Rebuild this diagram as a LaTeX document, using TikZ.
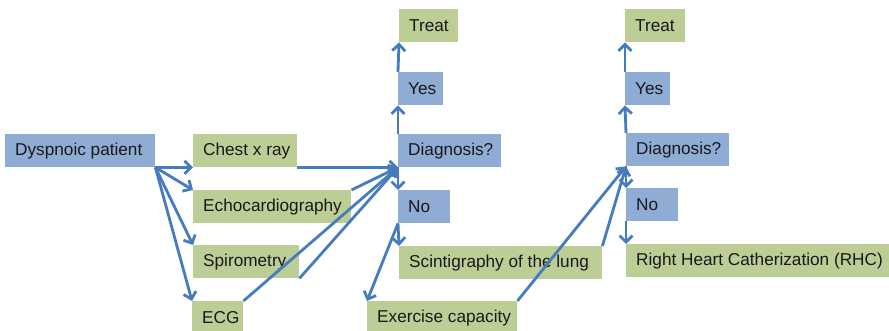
\documentclass[tikz,border=0pt]{standalone}
\usepackage{fontspec}
\setmainfont{Liberation Sans}
\usetikzlibrary{arrows.meta}
\definecolor{boxblue}{RGB}{143,172,213}
\definecolor{boxgreen}{RGB}{188,206,150}
\definecolor{arrowblue}{RGB}{70,124,190}
\newcommand{\bx}[2]{\makebox[#1pt][l]{#2}}
\tikzset{
  basebox/.style={anchor=north west, minimum height=33pt, inner xsep=10pt, inner ysep=0pt,
    font=\fontsize{17.2}{20}\selectfont, text=black!90},
  bluebox/.style={basebox, fill=boxblue},
  greenbox/.style={basebox, fill=boxgreen},
  conn/.style={draw=arrowblue, line width=2.8pt, -{Straight Barb[length=6.5pt,width=13pt]}}
}
\begin{document}
\begin{tikzpicture}[x=1pt,y=-1pt]
\useasboundingbox (0,0) rectangle (889,331);
\node[bluebox] (dys) at (5,134) {\bx{130}{Dyspnoic patient}};
\node[greenbox] (chest) at (193,134) {\bx{84}{Chest x ray}};
\node[greenbox] (echo) at (193,190) {\bx{138}{Echocardiography}};
\node[greenbox] (spiro) at (193,245) {\bx{86}{Spirometry}};
\node[greenbox] (ecg) at (192,301) {\bx{31}{ECG}};
\node[greenbox] (treat1) at (399,9) {\bx{39}{Treat}};
\node[bluebox] (yes1) at (398,72) {\bx{25}{Yes}};
\node[bluebox] (diag1) at (398,134) {\bx{83}{Diagnosis?}};
\node[bluebox] (no1) at (398,190) {\bx{32}{No}};
\node[greenbox] (scint) at (399,246) {\bx{183}{Scintigraphy of the lung}};
\node[greenbox] (exer) at (367,301) {\bx{130}{Exercise capacity}};
\node[greenbox] (treat2) at (625,9) {\bx{40}{Treat}};
\node[bluebox] (yes2) at (625,72) {\bx{25}{Yes}};
\node[bluebox] (diag2) at (626,133) {\bx{83}{Diagnosis?}};
\node[bluebox] (no2) at (626,188) {\bx{32}{No}};
\node[greenbox] (rhc) at (626,244) {\bx{243}{Right Heart Catherization (RHC)}};
\draw[conn] (dys.south east) -- (chest.south west);
\draw[conn] (dys.south east) -- (echo.north west);
\draw[conn] (dys.south east) -- (spiro.north west);
\draw[conn] (dys.south east) -- (ecg.north west);
\draw[conn] (chest.south east) -- (diag1.south west);
\draw[conn] (echo.north east) -- (diag1.south west);
\draw[conn] (spiro.south east) -- (diag1.south west);
\draw[conn] (ecg.north east) -- (diag1.south west);
\draw[conn] (diag1.north west) -- (yes1.south west);
\draw[conn] (yes1.north west) -- (treat1.south west);
\draw[conn] (diag1.south west) -- (no1.north west);
\draw[conn] (no1.south west) -- (scint.north west);
\draw[conn] (no1.south west) -- (exer.north west);
\draw[conn] (exer.north east) -- (diag2.south west);
\draw[conn] (scint.north east) -- (diag2.south west);
\draw[conn] (diag2.north west) -- (yes2.south west);
\draw[conn] (yes2.north west) -- (treat2.south west);
\draw[conn] (diag2.south west) -- (no2.north west);
\draw[conn] (no2.south west) -- (rhc.north west);
\end{tikzpicture}
\end{document}
